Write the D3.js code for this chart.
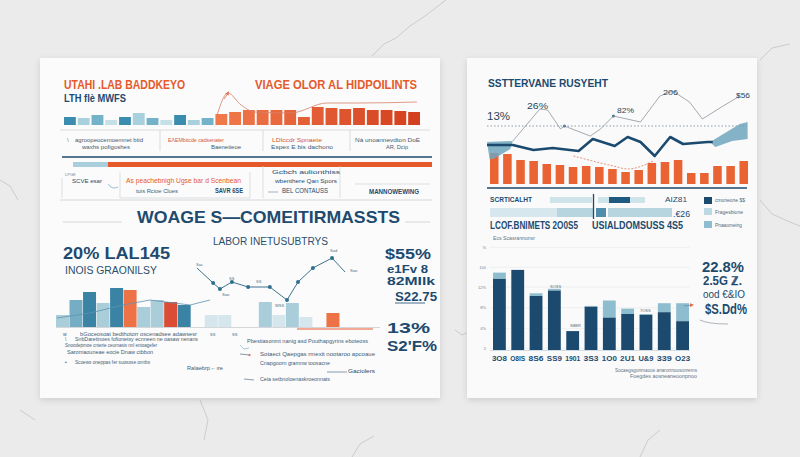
<!DOCTYPE html>
<html><head><meta charset="utf-8">
<script src="https://cdn.jsdelivr.net/npm/d3@7"></script>
<style>html,body{margin:0;padding:0;background:#e8e8e9;}svg{display:block}</style>
</head><body>
<svg id="c" width="800" height="457"></svg>
<script>
// ---------------- DATA ----------------
// left card, top strip
const stripBlue = [8,7,10,5,8,12,7,5,10,5,7];
const stripOrange = [11,13,15,15,15,15,8,18,17,16,17,15,15,14,13];
const stripCurve = [[1,10],[6.3,32],[12.7,20],[19.5,13],[37,12],[54.6,22],[70.7,22],[98.5,23]];
// left card, lower chart
const lowBars = [12,27,35,24,39,37,20,27,25,22,0,12,12,0,0,25,12,24,10,0,14,0,0,0];
const lowSeries = ["a","b","c","a","c","d","a","a","e","c","","f","f","","","a","f","a","f","","d","","",""];
const lowLine = [[43.5,59],[48.5,44],[50.6,38],[54.3,45],[59.3,40],[66,40],[71.3,27],[74.7,45],[79.3,59],[85.2,69],[89.2,55]];
const lowLine2 = [[0.3,9],[10.5,14],[20.7,22],[29,27],[41.4,22],[47.5,27]];
// right card, top chart
const rtBars = [31,30,24,23,20,19,17,18,17,15,12,14,21,22,24,11,11,18,18,23];
const rtDark = [[0,39],[2,39],[3.6,34],[5.1,36],[7.1,33],[8.2,45],[9.9,38],[10.9,47],[11.9,42],[13,28],[14.2,47],[15.2,40],[17.1,42],[17.5,42]];
const rtThin = [[2,43],[4.1,75],[4.7,74],[5.7,55],[6,58],[8,48],[8.8,55],[9.8,68],[11.9,62],[13.4,88],[14.4,93],[15.7,82],[16.7,65],[18.3,78],[19.6,88]];
const rtRed = [[6.7,28],[9.8,18],[10.9,15],[12.9,23]];
const rtAreaL = [[0,42],[2,43],[1.8,35],[0.5,25],[0.2,25]];
const rtAreaR = [[17.3,42],[19.6,60],[20.2,62],[20.2,45],[19,43],[17.7,37]];
// right card, bottom chart
const rbCats = ["3O8","O8IS","8S6","SS9","1901","3S3","1O0","2U1","U&9","339","O23"];
const rbMain = [79,89,60,66,21,48,36,40,39,42,32];
const rbTop = [7,0,3,2,0,1,19,6,1,10,20];
const rbTickVals = [2,24,47,70,92,114];
const rbTickLabels = ["2","4%","8%","12%","100","%"];

// ---------------- STYLE ----------------
const NAVY = "#1d4a6e", OR = "#e5592b", LB = "#a9cfdc", MB = "#6aa8c0", TEAL = "#2f7798";
const FONT = "Liberation Sans, Arial, sans-serif";
const svg = d3.select("#c");
const defs = svg.append("defs");
const f = defs.append("filter").attr("id","sh").attr("x","-5%").attr("y","-5%").attr("width","110%").attr("height","115%");
f.append("feDropShadow").attr("dx",0).attr("dy",2).attr("stdDeviation",3).attr("flood-color","#000").attr("flood-opacity",0.13);
defs.append("marker").attr("id","ar").attr("viewBox","0 0 6 6").attr("refX",3).attr("refY",3)
  .attr("markerWidth",5).attr("markerHeight",5).attr("orient","auto")
  .append("path").attr("d","M0,0 L6,3 L0,6 z").attr("fill","#e07050");

function T(x,y,s,o={}) {
  const t = svg.append("text").attr("x",x).attr("y",y).text(s)
    .attr("font-family", o.f || FONT).attr("font-size", o.size||6)
    .attr("fill", o.c||NAVY).attr("font-weight", o.w||"normal");
  if (o.a) t.attr("text-anchor", o.a);
  if (o.len) t.attr("textLength", o.len).attr("lengthAdjust","spacingAndGlyphs");
  if (o.op) t.attr("opacity", o.op);
  return t;
}
function L(x1,y1,x2,y2,c,w,dash){ const l=svg.append("line").attr("x1",x1).attr("y1",y1).attr("x2",x2).attr("y2",y2).attr("stroke",c).attr("stroke-width",w||1); if(dash) l.attr("stroke-dasharray",dash); return l;}

// background
svg.append("rect").attr("width",800).attr("height",457).attr("fill","#ebebec");
const cracks = ["M372,56 L384,44 L396,38 L410,26 L425,16 L446,0","M760,200 L772,214 L790,222 L800,226","M0,180 L10,186 L18,200","M640,457 L648,440 L660,430","M352,457 L360,444 L374,436","M760,60 L772,48 L790,44","M455,330 L462,335 L467,333","M200,400 L208,420 L204,440","M20,410 L35,420"];
svg.selectAll(".ck").data(cracks).join("path").attr("d",d=>d).attr("fill","none").attr("stroke","#a9a9ab").attr("stroke-width",0.8).attr("opacity",0.6);

// cards
svg.append("rect").attr("x",40).attr("y",58).attr("width",400).attr("height",340).attr("fill","#fbfbfb").attr("filter","url(#sh)");
svg.append("rect").attr("x",467).attr("y",58).attr("width",290).attr("height",340).attr("fill","#fafafa").attr("filter","url(#sh)");

// ================= LEFT CARD =================
T(64,89,"UTAHI .LAB BADDKEYO",{size:12,c:OR,w:"bold",len:121});
T(64,102,"LTH flè MWFS",{size:10,c:NAVY,w:"bold",len:62});
T(255,89,"VIAGE OLOR AL HIDPOILINTS",{size:12,c:OR,w:"bold",len:162});

// top strip bars
const stripVals = stripBlue.concat(stripOrange);
const sx = d3.scaleBand().domain(d3.range(stripVals.length)).range([64,420]).paddingInner(0.14);
const sy = d3.scaleLinear().domain([0,20]).range([125,105]);
const blueCycle = ["#3b8db0","#a9d0dd","#73b2c8","#c6e0e8"];
const orScale = d3.scaleLinear().domain([0,stripOrange.length-1]).range(["#f0794a","#d4401f"]);
svg.selectAll(".sb").data(stripVals).join("rect")
  .attr("x",(d,i)=>sx(i)).attr("width",sx.bandwidth())
  .attr("y",d=>sy(d)).attr("height",d=>sy(0)-sy(d))
  .attr("fill",(d,i)=> i<stripBlue.length ? blueCycle[i%4] : orScale(i-stripBlue.length));
const cx = d3.scaleLinear().domain([0,100]).range([215,420]);
const cy = d3.scaleLinear().domain([0,40]).range([125,85]);
svg.append("path").datum(stripCurve).attr("d",d3.line().x(d=>cx(d[0])).y(d=>cy(d[1])).curve(d3.curveMonotoneX))
  .attr("fill","none").attr("stroke","#d8806a").attr("stroke-width",0.8);
svg.append("path").attr("d",`M${cx(4.5)},${cy(26)} L${cx(6.3)},${cy(32)}`).attr("stroke","#e07050").attr("stroke-width",0.8).attr("marker-end","url(#ar)");

// separators + column texts
L(60,130,430,130,"#c9ced2",0.7);
[160,263,350].forEach(x=>L(x,130,x,151,"#c9ced2",0.7));
T(67,142,"\\",{size:6,c:"#7a8591"});
T(75,142,"agroopeocemoemnet btid",{size:6,c:"#3d5b75",len:68});
T(82,149,"waxhs pofigoshes",{size:6,c:"#3d5b75",len:48});
T(168,142,"EΛEMbitcde cadsenater",{size:6,c:"#d4582f",len:56});
T(211,149,"Baenetieoe",{size:6,c:"#3d5b75",len:30});
T(272,142,"LDlccdr Spnaete",{size:6,c:"#d4582f",len:50});
T(271,149,"Espex E bis dachono",{size:6,c:"#3d5b75",len:62});
T(355,142,"Nà unoannevdton DoE",{size:6,c:"#3d5b75",len:65});
T(386,149,"AR, Dcip",{size:6,c:"#3d5b75",len:22});

L(62,157,432,157,NAVY,1.3);
svg.append("rect").attr("x",73).attr("y",162).attr("width",35).attr("height",5).attr("fill",LB);
svg.append("rect").attr("x",108).attr("y",162).attr("width",324).attr("height",5).attr("fill",OR);

// info boxes
T(65,176,"LPGE",{size:4,c:"#7a8591"});
svg.append("path").attr("d","M62,178 L62,198 M120,172 L120,198 L250,198 L250,172").attr("fill","none").attr("stroke","#cfd3d6").attr("stroke-width",0.7);
T(72,183,"SCVE esar",{size:6,c:NAVY,len:30});
T(126,183,"As peachebnigh Ugse bar d Scenbean",{size:6.5,c:OR,len:115});
svg.append("path").attr("d","M108,184 q4,6 10,3").attr("fill","none").attr("stroke","#6aa8c0").attr("stroke-width",0.7);
T(136,193,"tuis Rcioe Clues",{size:5.5,c:"#3d5b75",len:42});
T(215,193,"SAVR 6SE",{size:8,c:NAVY,w:"bold",len:28});
svg.append("path").attr("d","M263,166 L263,198 M340,166 L340,198").attr("fill","none").attr("stroke","#cfd3d6").attr("stroke-width",0.7);
T(272,174,"Gcbch aulionthiss",{size:6,c:NAVY,len:68});
T(275,183,"wbenthere Qan Spors",{size:6,c:NAVY,len:62});
L(268,192,278,192,"#6a8598",0.6);
T(282,193,"BEL CONTAUSS",{size:6.5,c:NAVY,len:46});
L(355,184,430,184,"#cfd3d6",0.7);
T(369,194,"MANNOWEWING",{size:6.5,c:NAVY,w:"bold",len:50});
L(60,200,432,200,"#c9ced2",0.8);

// big title
T(137,223,"WOAGE S—COMEITIRMASSTS",{size:17,c:NAVY,w:"bold",len:263});
L(63,222,122,222,"#c9ced2",0.8);
L(405,222,430,222,"#c9ced2",0.8);
T(213,245,"LABOR INETUSUBTRYS",{size:10,c:"#2a4f6c",len:115});
T(63,259,"20% LAL145",{size:16,c:NAVY,w:"bold",len:107});
T(65,274,"INOIS GRAONILSY",{size:10,c:"#2a4f6c",len:92});

// lower chart
const lx = d3.scaleBand().domain(d3.range(lowBars.length)).range([56,380]).paddingInner(0.04);
const ly = d3.scaleLinear().domain([0,80]).range([327,247]);
const lowColor = {a:"#a5cad8", b:"#6ea9c2", c:"#2f7c9f", d:"#ec6a3c", e:"#d9422a", f:"#d3e5ec"};
L(56,327.5,380,327.5,"#c9ced2",0.8);
svg.selectAll(".lb").data(lowBars).join("rect")
  .attr("x",(d,i)=>lx(i)).attr("width",lx.bandwidth())
  .attr("y",d=>ly(d)).attr("height",d=>ly(0)-ly(d))
  .attr("fill",(d,i)=>lowColor[lowSeries[i]]||"none").attr("opacity",0.95);
L(297,329,373,329,OR,1);
const lxx = d3.scaleLinear().domain([0,100]).range([56,380]);
svg.append("path").datum(lowLine2).attr("d",d3.line().x(d=>lxx(d[0])).y(d=>ly(d[1])))
  .attr("fill","none").attr("stroke","#5d93ad").attr("stroke-width",0.8);
svg.append("path").datum(lowLine).attr("d",d3.line().x(d=>lxx(d[0])).y(d=>ly(d[1])))
  .attr("fill","none").attr("stroke","#3f7391").attr("stroke-width",1);
svg.selectAll(".lm").data(lowLine.slice(1,-1)).join("circle")
  .attr("cx",d=>lxx(d[0])).attr("cy",d=>ly(d[1])).attr("r",2).attr("fill","#2f6f8f");
T(330,252,"Sad",{size:4,c:"#4d6a80"});
T(350,272,"Soo",{size:4,c:"#4d6a80"});
T(229,280,"SS",{size:4,c:"#4d6a80"});
T(256,283,"SS",{size:4,c:"#4d6a80"});
T(222,296,"Soo",{size:4,c:"#4d6a80"});
T(196,266,"Sac",{size:4,c:"#4d6a80"});
T(275,307,"WSS",{size:4,c:"#4d6a80"});

// big numbers left card
T(385,259,"$55%",{size:14,c:NAVY,w:"bold",len:46});
T(387,273,"e1Fv 8",{size:10.5,c:NAVY,w:"bold",len:41});
T(387,285,"82MIlk",{size:10.5,c:NAVY,w:"bold",len:48});
T(395,301,"S22.75",{size:13,c:NAVY,w:"bold",len:42});
L(395,303,425,303,NAVY,0.8);
T(387,333,"13%",{size:15,c:NAVY,w:"bold",len:43});
T(387,351,"S2'F%",{size:14,c:NAVY,w:"bold",len:50});

// lower text rows
const sm = {size:5,c:"#3d5b75"};
T(63,336,"w",{size:5,c:"#3d5b75"});
T(80,336,"bGoceosoat bedthotorr oscenadsee adawsesr",{...sm,len:117});
T(210,336,"SS",{size:4,c:"#3d5b75"});
T(232,336,"SS",{size:4,c:"#3d5b75"});
T(65,341,"\\",{size:5,c:"#3d5b75"});
T(75,341,"SnbDaretinoes fofionetsy ecnneen ne oasaw nenans",{...sm,len:123});
T(65,347,"Snoodepmoe cnterie ceurnasis nnl entoagefer",{...sm,len:92});
T(67,354,"Saromaouneae eocie Dnaw ctbbon",{...sm,len:86});
T(65,364,"•",{size:5,c:"#3d5b75"});
T(75,364,"Scoews oneppas fer suosose onnbs",{...sm,len:75});
T(187,370,"Ralaebrp  ⌐ ıre",{...sm,len:36});
T(247,343,"Pbestiasonmt nanig asd Pouthapgyrins eboteoss",{...sm,len:121});
svg.append("path").attr("d","M240,345 l4,4 l5,-1").attr("fill","none").attr("stroke","#6aa8c0").attr("stroke-width",0.6);
svg.append("path").attr("d","M240,354 l10,1").attr("fill","none").attr("stroke","#3d5b75").attr("stroke-width",0.6).attr("marker-end","url(#ar)");
T(260,356,"Sotaect Qaepgas rmexit nootaroo apcoaue",{...sm,len:115});
T(260,365,"Cnapgoorn gramnw toosacne",{...sm,len:70});
L(327,372,347,372,"#3d5b75",0.6);
T(348,373,"Gaciolers",{size:6,c:NAVY,len:27});
svg.append("path").attr("d","M244,379 l10,1").attr("fill","none").attr("stroke","#3d5b75").attr("stroke-width",0.6);
T(260,381,"Ceia setbnoloenaskroeonnats",{...sm,len:70});

// ================= RIGHT CARD =================
T(488,87,"SSTTERVANE RUSYEHT",{size:10,c:NAVY,w:"bold",len:120});
const rx = d3.scaleLinear().domain([0,20]).range([487,745]);
const ry = d3.scaleLinear().domain([0,100]).range([184,84]);
L(487,126,747,126,"#6f8394",0.8,"1.5,2");
const rxb = d3.scaleBand().domain(d3.range(rtBars.length)).range([490,748]).paddingInner(0.35);
svg.selectAll(".rob").data(rtBars).join("rect")
  .attr("x",(d,i)=>rxb(i)).attr("width",rxb.bandwidth())
  .attr("y",d=>ry(d)).attr("height",d=>ry(0)-ry(d)).attr("fill","#ea6332");
const ln = d3.line().x(d=>rx(d[0])).y(d=>ry(d[1]));
svg.append("path").datum(rtAreaL).attr("d",ln.curve(d3.curveLinearClosed)).attr("fill","#6fa5bd").attr("opacity",0.85);
svg.append("path").datum(rtAreaR).attr("d",ln.curve(d3.curveLinearClosed)).attr("fill","#6fa5bd").attr("opacity",0.85);
ln.curve(d3.curveLinear);
svg.append("path").datum(rtThin).attr("d",ln).attr("fill","none").attr("stroke","#8c96a0").attr("stroke-width",0.8);
svg.append("path").datum(rtRed).attr("d",ln.curve(d3.curveMonotoneX)).attr("fill","none").attr("stroke","#d9654a").attr("stroke-width",0.7).attr("stroke-dasharray","2,1.5");
ln.curve(d3.curveLinear);
svg.append("path").datum(rtDark).attr("d",ln).attr("fill","none").attr("stroke","#1b4a6e").attr("stroke-width",2.6).attr("stroke-linejoin","round");
svg.append("circle").attr("cx",rx(6)).attr("cy",ry(58)).attr("r",1.6).attr("fill","#5d7f99");
svg.append("circle").attr("cx",rx(9.8)).attr("cy",ry(68)).attr("r",1.6).attr("fill","#5d7f99");
L(487,188,747,188,NAVY,1.3);
T(487,120,"13%",{size:10,c:"#2a4558",len:23});
T(527,109,"26%",{size:9,c:"#2a4558",len:21});
T(617,113,"82%",{size:8,c:"#2a4558",len:17});
T(663,95,"206",{size:8,c:"#2a4558",len:15});
T(736,98,"$56",{size:8,c:"#2a4558",len:14});

// progress rows
T(490,202,"SCRTICALHT",{size:8,c:NAVY,w:"bold",len:42});
svg.append("rect").attr("x",550).attr("y",197).attr("width",42).attr("height",6).attr("fill","#cfe3ea");
svg.append("rect").attr("x",598).attr("y",197).attr("width",47).attr("height",6).attr("fill","#cfe3ea");
svg.append("rect").attr("x",609).attr("y",197).attr("width",21).attr("height",6).attr("fill","#1f5a80");
svg.append("rect").attr("x",490).attr("y",208).attr("width",67).attr("height",9).attr("fill","#d6e8ee");
svg.append("rect").attr("x",557).attr("y",208).attr("width",36).attr("height",9).attr("fill","#b7d5df");
svg.append("rect").attr("x",596).attr("y",208).attr("width",10).attr("height",9).attr("fill","#4f8fad");
svg.append("rect").attr("x",608).attr("y",208).attr("width",64).attr("height",9).attr("fill","#b7d5df");
L(593.5,194,593.5,219,NAVY,1.3);
T(665,202,"AIZ81",{size:8,c:NAVY,len:22});
T(673,217,".€26",{size:9,c:NAVY,len:17});
svg.append("rect").attr("x",704).attr("y",197).attr("width",8).attr("height",7).attr("fill","#1b4a6e");
svg.append("rect").attr("x",704).attr("y",208).attr("width",8).attr("height",7).attr("fill","#bcd9e3");
svg.append("rect").attr("x",704).attr("y",221).attr("width",8).attr("height",7).attr("fill","#8fbdd0");
T(715,202,"cmoneone $$",{size:4.5,c:"#4d6a80",len:30});
T(715,214,"Fragesbione",{size:4.5,c:"#4d6a80",len:28});
T(715,227,"Pnaaomeing",{size:4.5,c:"#4d6a80",len:27});
T(490,229,"LCOF.BNIMETS 2O0S5",{size:10,c:NAVY,w:"bold",len:88});
T(592,229,"USIALDOMSUSS 4S5",{size:10,c:NAVY,w:"bold",len:91});
T(493,240,"Ecs Scasrannonsr",{size:4.5,c:"#5d7385",len:42});

// bottom bar chart
const bx = d3.scaleBand().domain(rbCats).range([493,689]).paddingInner(0.3);
const by = d3.scaleLinear().domain([0,100]).range([350,260]);
svg.selectAll(".gr").data(rbTickVals).join("line")
  .attr("x1",490).attr("x2",690).attr("y1",d=>by(d)).attr("y2",d=>by(d))
  .attr("stroke","#e4e8eb").attr("stroke-width",0.6);
svg.selectAll(".tl").data(rbTickVals).join("text")
  .attr("x",486).attr("y",d=>by(d)+1.5).attr("text-anchor","end").text((d,i)=>rbTickLabels[i])
  .attr("font-family",FONT).attr("font-size",4).attr("fill","#7a8591");
svg.selectAll(".bt").data(rbCats).join("rect")
  .attr("x",d=>bx(d)).attr("width",bx.bandwidth())
  .attr("y",(d,i)=>by(rbMain[i]+rbTop[i])).attr("height",(d,i)=>by(rbMain[i])-by(rbMain[i]+rbTop[i]))
  .attr("fill","#8fbdd0");
svg.selectAll(".bm").data(rbCats).join("rect")
  .attr("x",d=>bx(d)).attr("width",bx.bandwidth())
  .attr("y",(d,i)=>by(rbMain[i])).attr("height",(d,i)=>by(0)-by(rbMain[i]))
  .attr("fill","#1b4a6e");
L(490,350.5,690,350.5,"#b9c6cf",0.6);
svg.selectAll(".cl").data(rbCats).join("text")
  .attr("x",d=>bx(d)+bx.bandwidth()/2).attr("y",361).attr("text-anchor","middle").text(d=>d)
  .attr("font-family",FONT).attr("font-size",7.5).attr("font-weight","bold").attr("fill",NAVY)
  .attr("textLength",15).attr("lengthAdjust","spacingAndGlyphs");
T(550,288,"SOSS",{size:4,c:"#4d6a80"});
T(570,327,"SBBR",{size:4,c:"#4d6a80"});
T(640,312,"7OSS",{size:4,c:"#4d6a80"});

T(702,272,"22.8%",{size:14,c:NAVY,w:"bold",len:42});
T(703,285,"2.5G ℤ.",{size:12,c:NAVY,w:"bold",len:39});
T(703,298,"ood €&IO",{size:10,c:NAVY,len:42});
T(705,314,"$S.Dd%",{size:14,c:NAVY,w:"bold",len:42});
svg.append("path").attr("d","M684,306 l8,-1").attr("stroke","#5d93ad").attr("stroke-width",0.8).attr("marker-end","url(#ar)");
svg.append("path").attr("d","M700,320 q8,4 28,4").attr("fill","none").attr("stroke","#8c96a0").attr("stroke-width",0.7);
T(615,372,"Socaegsgonmaoos anaronnoosonrems",{size:4.5,c:"#5d7385",len:82});
T(630,378,"Foegdes aosneaneoonpnoo",{size:4.5,c:"#5d7385",len:67});
</script>
</body></html>
